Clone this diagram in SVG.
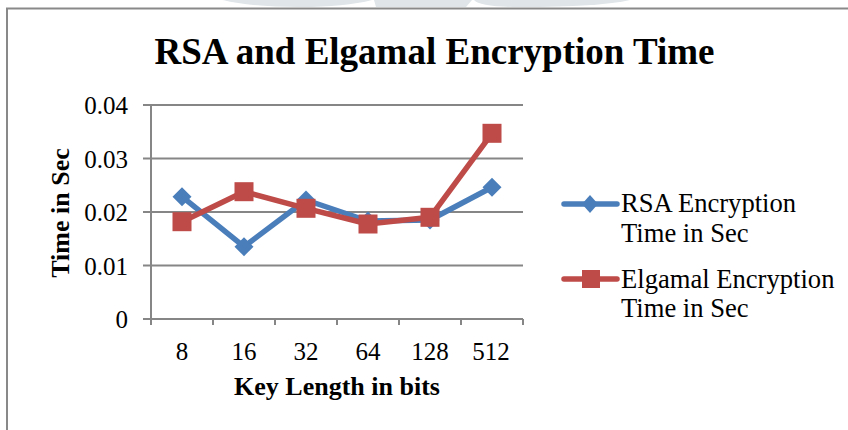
<svg xmlns="http://www.w3.org/2000/svg" width="848" height="430" viewBox="0 0 848 430">
  <style>
    .frame { fill: #ffffff; stroke: #898989; stroke-width: 2; }
    .grid { stroke: #868686; stroke-width: 2; fill: none; }
    .axis { stroke: #868686; stroke-width: 2; fill: none; }
    .title { font-family: "Liberation Serif", "Times New Roman", serif; font-weight: bold; font-size: 37px; fill: #000; text-anchor: middle; }
    .axtitle { font-family: "Liberation Serif", "Times New Roman", serif; font-weight: bold; font-size: 26px; fill: #000; text-anchor: middle; }
    .tick { font-family: "Liberation Serif", "Times New Roman", serif; font-size: 25px; fill: #000; }
    .legend { font-family: "Liberation Serif", "Times New Roman", serif; font-size: 26.6px; fill: #000; }
    .rsa { stroke: #4A7EBB; stroke-width: 5.5; fill: none; stroke-linejoin: round; stroke-linecap: round; }
    .elg { stroke: #BE4B48; stroke-width: 5.5; fill: none; stroke-linejoin: round; stroke-linecap: round; }
    .rsa-m { fill: #4A7EBB; }
    .elg-m { fill: #BE4B48; }
    .wm { fill: #dfe5e8; }
  </style>
  <defs>
    <path id="diamond" d="M0 -9.5 L9.5 0 L0 9.5 L-9.5 0 Z"/>
    <rect id="square" x="-9.5" y="-9.5" width="19" height="19"/>
  </defs>

  <rect width="848" height="430" fill="#ffffff"/>

  <!-- faint background shapes above the chart frame -->
  <g id="backdrop">
    <path class="wm" d="M223 0 Q 250 7 300 7 Q 345 7 372 0 Z"/>
    <path class="wm" d="M374 0 L 376 7 L 466 7 L 472 0 Z"/>
    <path class="wm" d="M474 0 Q 480 7 520 7 Q 600 7 630 0 Z"/>
  </g>

  <!-- chart area border -->
  <rect class="frame" x="7" y="8.5" width="860" height="440"/>

  <g id="title">
    <text class="title" x="434.5" y="64">RSA and Elgamal Encryption Time</text>
  </g>

  <!-- plot area: gridlines, axes, ticks -->
  <g id="plot-area">
    <line class="grid" x1="151" y1="105" x2="523" y2="105"/>
    <line class="grid" x1="151" y1="158.5" x2="523" y2="158.5"/>
    <line class="grid" x1="151" y1="212" x2="523" y2="212"/>
    <line class="grid" x1="151" y1="265.5" x2="523" y2="265.5"/>
    <line class="axis" x1="151" y1="105" x2="151" y2="325"/>
    <line class="axis" x1="143" y1="319" x2="523" y2="319"/>
    <path class="axis" d="M143 105 H151 M143 158.5 H151 M143 212 H151 M143 265.5 H151"/>
    <path class="axis" d="M213 319 V325 M275 319 V325 M337 319 V325 M399 319 V325 M461 319 V325 M523 319 V325"/>
  </g>

  <g id="y-axis-labels" class="tick" text-anchor="end">
    <text x="128" y="114">0.04</text>
    <text x="128" y="167.5">0.03</text>
    <text x="128" y="221">0.02</text>
    <text x="128" y="274.5">0.01</text>
    <text x="128" y="328">0</text>
  </g>

  <g id="x-axis-labels" class="tick" text-anchor="middle">
    <text x="182" y="360">8</text>
    <text x="244" y="360">16</text>
    <text x="306" y="360">32</text>
    <text x="368" y="360">64</text>
    <text x="430" y="360">128</text>
    <text x="491" y="360">512</text>
  </g>

  <g id="axis-titles">
    <text class="axtitle" x="337" y="395">Key Length in bits</text>
    <text class="axtitle" transform="translate(69 213) rotate(-90)">Time in Sec</text>
  </g>

  <!-- data series -->
  <g id="connectors">
    <polyline class="rsa" points="182,196.7 244,246.7 306,200 368,221 430,220 492,187.3"/>
    <polyline class="elg" points="182,221.7 244,191.7 306,208.3 368,224 430,217.3 492,133.3"/>
  </g>

  <g id="rsa-markers" class="rsa-m">
    <use href="#diamond" x="182" y="196.7"/>
    <use href="#diamond" x="244" y="246.7"/>
    <use href="#diamond" x="306" y="200"/>
    <use href="#diamond" x="368" y="221"/>
    <use href="#diamond" x="430" y="220"/>
    <use href="#diamond" x="492" y="187.3"/>
  </g>

  <g id="elgamal-markers" class="elg-m">
    <use href="#square" x="182" y="221.7"/>
    <use href="#square" x="244" y="191.7"/>
    <use href="#square" x="306" y="208.3"/>
    <use href="#square" x="368" y="224"/>
    <use href="#square" x="430" y="217.3"/>
    <use href="#square" x="492" y="133.3"/>
  </g>

  <!-- legend -->
  <g id="legend-rsa">
    <line class="rsa" x1="564" y1="204" x2="617" y2="204"/>
    <path class="rsa-m" d="M590 195 L598 204 L590 213 L582 204 Z"/>
    <text class="legend" x="621" y="212">RSA Encryption</text>
    <text class="legend" x="621" y="242">Time in Sec</text>
  </g>
  <g id="legend-elgamal">
    <line class="elg" x1="564" y1="279" x2="617" y2="279"/>
    <rect class="elg-m" x="582" y="270" width="18" height="18"/>
    <text class="legend" x="621" y="288">Elgamal Encryption</text>
    <text class="legend" x="621" y="317">Time in Sec</text>
  </g>
</svg>
